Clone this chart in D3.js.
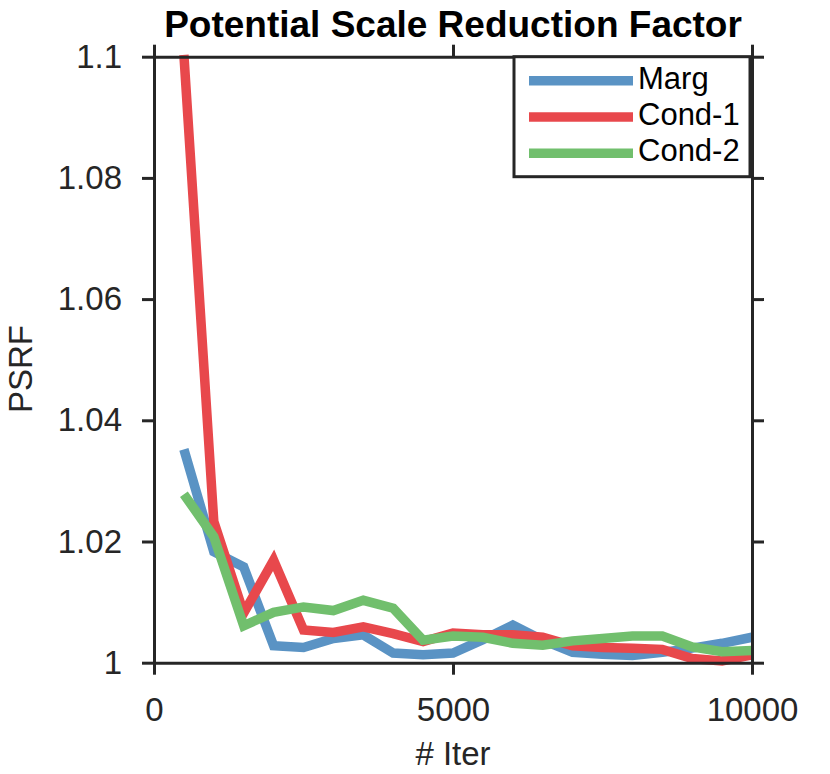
<!DOCTYPE html>
<html>
<head>
<meta charset="utf-8">
<script src="https://cdn.jsdelivr.net/npm/d3@7"></script>
<style>
  body { margin: 0; background: #fff; }
  text { font-family: "Liberation Sans", Arial, Helvetica, sans-serif; }
</style>
</head>
<body>
<div class="chart"></div>
<script>
// iterations
var iters = [500, 1000, 1500, 2000, 2500, 3000, 3500, 4000, 4500, 5000,
             5500, 6000, 6500, 7000, 7500, 8000, 8500, 9000, 9500, 10000];

var marg = [1.0352, 1.0183, 1.0158, 1.0028, 1.0025, 1.0040, 1.0046, 1.0016, 1.0013, 1.0016,
            1.0038, 1.0062, 1.0037, 1.0017, 1.0014, 1.0012, 1.0017, 1.0024, 1.0032, 1.0042];
var cond1 = [1.1003, 1.0233, 1.0082, 1.0169, 1.0054, 1.0050, 1.0059, 1.0048, 1.0035, 1.0049,
             1.0046, 1.0046, 1.0042, 1.0028, 1.0025, 1.0024, 1.0022, 1.0007, 1.0003, 1.0013];
var cond2 = [1.0278, 1.0208, 1.0061, 1.0083, 1.0092, 1.0086, 1.0103, 1.0090, 1.0037, 1.0044,
             1.0042, 1.0032, 1.0029, 1.0036, 1.0040, 1.0044, 1.0044, 1.0026, 1.0018, 1.0020];

var seriesNames = ["Marg", "Cond-1", "Cond-2"];
var seriesColors = ["#5a93c4", "#e8484c", "#71bf6d"];

var xTicks = [0, 5000, 10000];
var yTicks = [1, 1.02, 1.04, 1.06, 1.08, 1.1];

var W = 830, H = 774;
var margin = {top: 56.7, right: 78, bottom: 111.3, left: 154};
var width = W - margin.left - margin.right;
var height = H - margin.top - margin.bottom;

var svg = d3.select(".chart").append("svg")
    .attr("width", W)
    .attr("height", H)
  .append("g")
    .attr("transform", "translate(" + margin.left + "," + margin.top + ")");

var x = d3.scaleLinear().domain([0, 10000]).range([0, width]);
var y = d3.scaleLinear().domain([1, 1.1]).range([height, 0]);

var axisColor = "#262626";
var fs = 33;

//lines first, axes over them
var line = d3.line()
    .x(function(d) { return x(d[0]); })
    .y(function(d) { return y(d[1]); });

[marg, cond1, cond2].forEach(function(vals, i) {
    svg.append("path")
        .datum(iters.map(function(t, j) { return [t, vals[j]]; }))
        .attr("fill", "none")
        .attr("stroke", seriesColors[i])
        .attr("stroke-width", 9.5)
        .attr("stroke-linejoin", "miter")
        .attr("d", line);
});

function styleAxis(g) {
    g.selectAll("path, line").attr("stroke", axisColor).attr("stroke-width", 3);
    g.selectAll("text").attr("fill", axisColor).style("font-size", fs + "px");
}

svg.append("g")
    .call(d3.axisLeft(y).tickValues(yTicks).tickSize(12).tickSizeOuter(0).tickPadding(20)
        .tickFormat(d3.format("~g")))
    .call(styleAxis);

svg.append("g")
    .attr("transform", "translate(" + width + ",0)")
    .call(d3.axisRight(y).tickValues(yTicks).tickSize(12).tickSizeOuter(0).tickFormat(""))
    .call(styleAxis);

svg.append("g")
    .attr("transform", "translate(0," + height + ")")
    .call(d3.axisBottom(x).tickValues(xTicks).tickSize(12).tickSizeOuter(0).tickPadding(23)
        .tickFormat(d3.format("d")))
    .call(styleAxis);

svg.append("g")
    .call(d3.axisTop(x).tickValues(xTicks).tickSize(12).tickSizeOuter(0).tickFormat(""))
    .call(styleAxis);

svg.selectAll(".domain").attr("stroke-linecap", "square");

// title and axis labels
svg.append("text")
    .attr("x", width / 2)
    .attr("y", 37 - margin.top)
    .attr("text-anchor", "middle")
    .attr("font-weight", "bold")
    .style("font-size", "37px")
    .attr("fill", "#000")
    .text("Potential Scale Reduction Factor");

svg.append("text")
    .attr("x", width / 2)
    .attr("y", 765 - margin.top)
    .attr("text-anchor", "middle")
    .style("font-size", fs + "px")
    .attr("fill", axisColor)
    .text("# Iter");

svg.append("text")
    .attr("transform", "translate(" + (32 - margin.left) + "," + (369 - margin.top) + ") rotate(-90)")
    .attr("text-anchor", "middle")
    .style("font-size", fs + "px")
    .attr("fill", axisColor)
    .text("PSRF");

// legend
var legX = 514 - margin.left, legW = 750 - 514, legH = 176.7 - 56.7;
var legend = svg.append("g");
legend.append("rect")
    .attr("x", legX)
    .attr("y", 0)
    .attr("width", legW)
    .attr("height", legH)
    .attr("fill", "#fff")
    .attr("stroke", axisColor)
    .attr("stroke-width", 3);

seriesNames.forEach(function(name, i) {
    var ly = 24 + i * 36.3;
    legend.append("line")
        .attr("x1", 529 - margin.left)
        .attr("x2", 633 - margin.left)
        .attr("y1", ly)
        .attr("y2", ly)
        .attr("stroke", seriesColors[i])
        .attr("stroke-width", 9.5);
    legend.append("text")
        .attr("x", 638 - margin.left)
        .attr("y", ly + 8)
        .style("font-size", "31px")
        .attr("fill", "#000")
        .text(name);
});
</script>
</body>
</html>
